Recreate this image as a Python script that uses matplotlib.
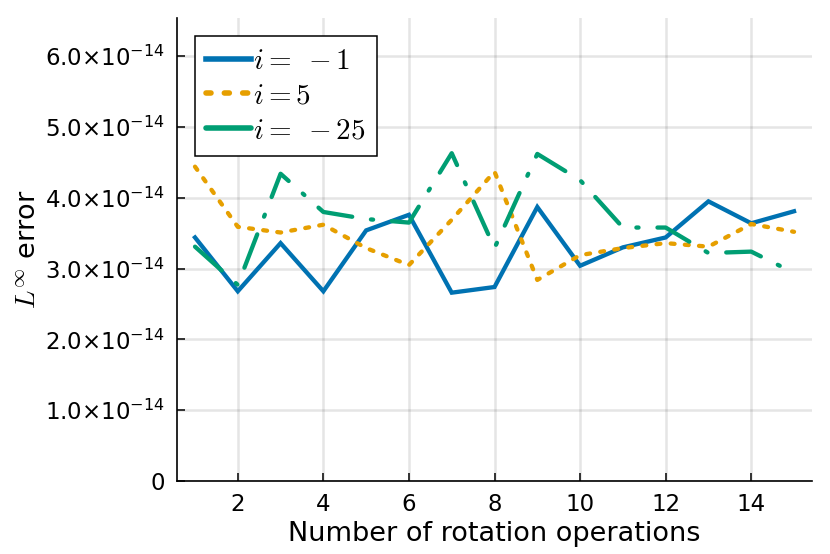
import matplotlib
matplotlib.use("Agg")
import matplotlib.pyplot as plt
from matplotlib.ticker import FixedLocator, FuncFormatter

# number of rotation operations
n_rot = list(range(1, 16))

# L-infinity error (units of 1e-14)
err_m1 = [3.44, 2.68, 3.36, 2.68, 3.54, 3.76, 2.66, 2.74, 3.87, 3.04, 3.30, 3.44, 3.95, 3.64, 3.81]
err_5 = [4.44, 3.59, 3.51, 3.62, 3.29, 3.05, 3.69, 4.37, 2.84, 3.19, 3.29, 3.36, 3.31, 3.63, 3.52]
err_m25 = [3.31, 2.77, 4.34, 3.80, 3.70, 3.65, 4.63, 3.29, 4.62, 4.25, 3.58, 3.58, 3.22, 3.24, 2.94]

labels = [r"$i=\;-1$", r"$i=5$", r"$i=\;-25$"]
yticks = [0, 1e-14, 2e-14, 3e-14, 4e-14, 5e-14, 6e-14]


def fmt(v, pos):
    if v == 0:
        return "0"
    m = v / 1e-14
    return r"$%.1f{\times}10^{-14}$" % m


fig = plt.figure(figsize=(8.3, 5.54), dpi=100)
ax = fig.add_axes([0.2133, 0.1318, 0.765, 0.8357])

lw = 3.1
s = 1e-14
ax.plot(n_rot, [v * s for v in err_m1], color="#0072B2", lw=lw, label=labels[0],
        solid_joinstyle="miter")
ax.plot(n_rot, [v * s for v in err_5], color="#E69F00", lw=lw, label=labels[1],
        dashes=(0.9, 2.4), dash_capstyle="round")
ax.plot(n_rot, [v * s for v in err_m25], color="#009E73", lw=lw, label=labels[2],
        dashes=(8.3, 4.4, 0.5, 4.4), dash_capstyle="round")

ax.set_xlim(0.58, 15.42)
ax.set_ylim(0, 6.54e-14)
ax.set_xticks([2, 4, 6, 8, 10, 12, 14])
ax.yaxis.set_major_locator(FixedLocator(yticks))
ax.yaxis.set_major_formatter(FuncFormatter(fmt))

ax.grid(True, color="black", alpha=0.1, lw=1.8)
ax.set_axisbelow(True)
for side in ["top", "right"]:
    ax.spines[side].set_visible(False)
for side in ["left", "bottom"]:
    ax.spines[side].set_linewidth(1.2)
ax.tick_params(direction="in", length=6, width=1.1, labelsize=16.5, pad=9)

ax.set_xlabel("Number of rotation operations", fontsize=19.5, labelpad=3)
yl = ax.set_ylabel(r"$L^\infty$ error", fontsize=19.5, labelpad=2)
yl.set_math_fontfamily("cm")

leg = ax.legend(loc="upper left", fontsize=21, handlelength=1.55, handletextpad=0.05,
                borderaxespad=0.6, labelspacing=0.22, fancybox=False, framealpha=1,
                edgecolor="black", borderpad=0.4)
leg.get_frame().set_linewidth(1.1)
for line in leg.get_lines():
    line.set_linewidth(4.0)
for t in leg.get_texts():
    t.set_math_fontfamily("cm")

fig.savefig("out.png", dpi=100)
